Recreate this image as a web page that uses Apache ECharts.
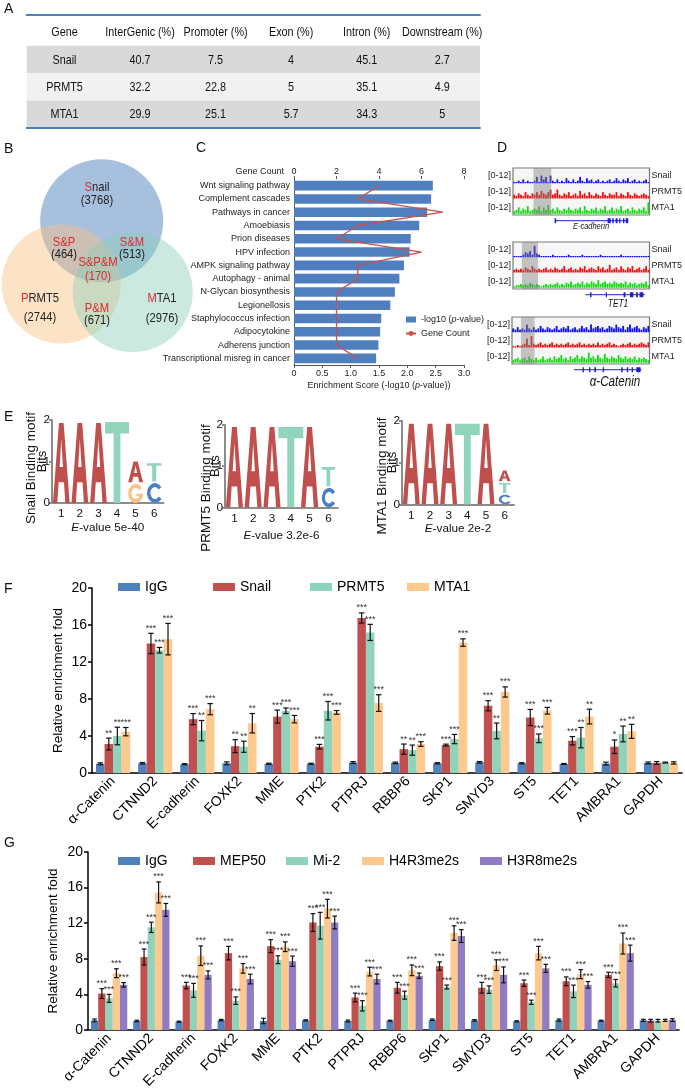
<!DOCTYPE html>
<html><head><meta charset="utf-8">
<script src="https://cdn.jsdelivr.net/npm/echarts@6/dist/echarts.min.js"></script>
<style>html,body{margin:0;padding:0;background:#fff;}#chart{width:685px;height:1091px;}</style>
</head><body><div id="chart"></div>
<script>
// ====================== DATA ======================
// Panel A – peak distribution table
const tableHeader = ['Gene','InterGenic (%)','Promoter (%)','Exon (%)','Intron (%)','Downstream (%)'];
const tableGenes = ['Snail','PRMT5','MTA1'];
const tableInterGenic = [40.7,32.2,29.9];
const tablePromoter = [7.5,22.8,25.1];
const tableExon = [4,5,5.7];
const tableIntron = [45.1,35.1,34.3];
const tableDownstream = [2.7,4.9,5];

// Panel B – Venn
const vennSets = ['Snail','PRMT5','MTA1'];
const vennSetCounts = [3768,2744,2976];
const vennOverlaps = ['S&P','S&M','P&M','S&P&M'];
const vennOverlapCounts = [464,513,671,170];

// Panel C – KEGG enrichment
const keggTerms = ['Wnt signaling pathway','Complement cascades','Pathways in cancer','Amoebiasis','Prion diseases','HPV infection','AMPK signaling pathway','Autophagy - animal','N-Glycan biosynthesis','Legionellosis','Staphylococcus infection','Adipocytokine','Adherens junction','Transcriptional misreg in cancer'];
const keggEnrichment = [2.45,2.42,2.35,2.21,2.06,2.04,1.94,1.86,1.78,1.70,1.54,1.52,1.49,1.45];
const keggGeneCount = [4,3,7,3,2,6,3,3,2,2,2,2,2,3];

// Panel D – ChIP-seq tracks (signal 0-12)
const ecadSnail = [1,1,2,1,3,1,2,1,1,2,5,1,6,3,5,1,6,2,1,3,1,2,1,4,2,1,3,1,2,5,2,1,4,2,3,1,2,3,1,2,1,2,3,1,2,4,2,1,3,2,4,1,2,3,1,2,1,2,3,1];
const ecadPRMT5 = [3,2,4,3,2,5,3,2,4,3,5,3,6,4,3,5,7,3,4,7,3,2,4,3,5,2,3,4,2,6,3,4,2,5,3,2,4,3,2,5,3,2,4,3,3,5,2,4,3,2,5,3,2,4,3,2,3,4,3,2];
const ecadMTA1 = [2,3,5,2,4,3,6,2,3,4,3,6,2,5,3,7,3,4,2,5,3,2,4,3,5,3,2,4,3,5,2,6,3,2,4,3,5,2,4,3,6,2,3,5,2,4,3,6,2,3,4,2,5,3,2,4,3,5,2,9];
const tet1Snail = [1,1,1,1,2,4,3,5,2,9,3,2,1,1,1,1,1,2,1,1,1,1,1,1,2,1,1,1,1,1,2,1,1,1,1,1,1,1,2,1,1,1,1,1,1,1,1,2,1,1,1,1,1,1,1,1,1,1,1,1];
const tet1PRMT5 = [2,3,2,3,2,4,3,2,5,3,2,3,2,3,4,2,3,2,4,3,2,3,5,2,3,4,2,3,2,4,3,5,2,3,4,3,2,5,3,4,2,3,6,2,3,4,2,5,3,2,4,3,5,2,3,4,2,3,5,2];
const tet1MTA1 = [1,2,2,3,2,3,2,4,3,2,3,2,1,2,3,2,3,2,3,4,2,3,2,4,3,5,2,3,4,3,5,2,4,3,5,4,3,6,3,4,5,3,4,3,5,4,3,4,3,5,2,4,3,4,2,3,4,3,5,2];
const ctnnSnail = [3,2,4,2,3,2,6,3,2,4,2,3,5,3,2,4,3,2,3,5,2,3,4,3,5,2,3,4,2,3,5,3,4,2,6,3,4,5,3,4,2,3,5,4,3,6,4,3,5,2,4,6,3,4,5,3,2,4,3,5];
const ctnnPRMT5 = [1,1,2,1,2,3,7,2,9,3,2,3,4,2,3,2,3,4,2,3,2,3,2,3,4,2,3,2,3,4,2,3,2,3,2,3,2,4,2,3,2,3,4,2,3,2,1,2,3,2,3,4,2,3,2,3,4,3,2,4];
const ctnnMTA1 = [2,3,4,2,3,4,2,5,3,2,4,2,3,5,2,3,4,2,5,3,4,6,3,4,2,5,3,4,6,3,5,4,3,8,4,5,3,6,4,3,7,4,3,5,4,3,6,4,3,5,3,4,3,5,2,4,3,4,3,2];
// highlighted regions and gene models (in % of track window)
const ecadShade = [15,28];
const tet1Shade = [6.5,18.3];
const ctnnShade = [6.5,16.4];
const ecadGene = [30.7,84.4];
const tet1Gene = [53,96.5];
const ctnnGene = [45.1,94.2];
const ecadExons = [[30.5,31.6],[69.3,71.6],[72.7,73.8],[75.2,76.6],[77.8,78.7],[80.6,81.6],[82.6,84.4]];
const tet1Exons = [[56.5,57.5],[68,68.8],[81,82.4],[85.7,88.2],[90.2,91.5],[92.7,95.5]];
const ctnnExons = [[51.3,52.3],[56,57],[59.9,61.1],[66,67],[79.4,80.5],[83.5,84.5],[87,88],[90.4,93.5]];
const dGeneNames = ['E-cadherin','TET1','α-Catenin'];
const dTrackNames = ['Snail','PRMT5','MTA1'];

// Panel E – motif logos: [position index, letter, bits] bottom-to-top
const logoPositions = ['1','2','3','4','5','6'];
const snailMotif = [[0,'A',1.93],[1,'A',1.93],[2,'A',1.93],[3,'T',1.95],[4,'G',0.46],[4,'A',0.50],[5,'C',0.48],[5,'T',0.44]];
const prmt5Motif = [[0,'A',1.95],[1,'A',1.95],[2,'A',1.95],[3,'T',1.95],[4,'A',1.95],[5,'C',0.47],[5,'T',0.47]];
const mta1Motif = [[0,'A',1.93],[1,'A',1.93],[2,'A',1.93],[3,'T',1.93],[4,'A',1.93],[5,'C',0.23],[5,'T',0.24],[5,'A',0.26]];
const logoNames = ['Snail','PRMT5','MTA1'];
const logoEValues = ['5e-40','3.2e-6','2e-2'];

// Panel F – ChIP-qPCR
const chipGenes = ['α-Catenin','CTNND2','E-cadherin','FOXK2','MME','PTK2','PTPRJ','RBBP6','SKP1','SMYD3','ST5','TET1','AMBRA1','GAPDH'];
const fIgG      = [1.0,1.05,0.95,1.05,1.0,1.0,1.13,1.1,1.05,1.16,1.05,0.98,1.02,1.09];
const fIgGErr   = [0.1,0.08,0.06,0.15,0.06,0.06,0.1,0.08,0.06,0.08,0.06,0.05,0.15,0.1];
const fSnail    = [3.13,14.0,5.82,2.9,6.1,2.84,16.76,2.58,3.02,7.27,6.0,3.49,2.84,1.09];
const fSnailErr = [0.64,1.1,0.6,0.7,0.7,0.25,0.55,0.55,0.1,0.55,0.87,0.45,0.73,0.15];
const fPRMT5    = [4.0,13.27,4.58,2.84,6.73,6.73,15.2,2.47,3.67,4.55,3.75,3.82,4.22,1.13];
const fPRMT5Err = [0.95,0.3,1.1,0.6,0.3,1.0,0.87,0.55,0.5,0.85,0.47,1.1,0.85,0.05];
const fMTA1     = [4.47,14.47,6.9,5.38,5.82,6.55,7.56,3.13,14.1,8.76,6.73,6.1,4.5,1.09];
const fMTA1Err  = [0.45,1.7,0.6,1.05,0.4,0.2,0.9,0.25,0.4,0.55,0.36,0.8,0.76,0.12];
const fSnailSig = ['**','***','***','**','***','***','***','**','***','***','***','***','*',''];
const fPRMT5Sig = ['**','***','**','**','***','***','***','**','***','**','***','**','**',''];
const fMTA1Sig  = ['***','***','***','**','***','***','***','***','***','***','***','**','**',''];

// Panel G – ChIP-qPCR
const gIgG      = [1.09,1.02,0.94,1.12,1.02,1.09,1.02,1.05,1.16,1.09,0.98,1.12,1.05,1.09];
const gIgGErr   = [0.15,0.08,0.06,0.08,0.3,0.06,0.1,0.06,0.08,0.08,0.06,0.12,0.06,0.12];
const gMEP50    = [4.1,8.2,5.0,8.64,9.43,12.08,3.66,4.75,7.18,4.75,5.26,5.48,6.2,1.05];
const gMEP50Err = [0.55,0.9,0.36,0.76,0.73,1.0,0.49,0.6,0.47,0.6,0.36,0.49,0.3,0.15];
const gMi2      = [3.56,11.54,4.46,3.3,7.9,11.72,2.72,3.92,4.83,4.54,3.12,4.35,5.26,1.05];
const gMi2Err   = [0.45,0.58,0.78,0.42,0.44,1.5,0.58,0.45,0.22,0.42,0.24,0.7,0.42,0.15];
const gH4R3     = [6.39,15.46,8.35,6.93,9.36,13.64,6.57,6.71,10.89,7.29,8.64,6.28,9.72,1.09];
const gH4R3Err  = [0.5,1.18,1.1,0.54,0.54,1.05,0.49,0.6,0.82,0.6,0.76,0.5,1.18,0.12];
const gH3R8     = [5.08,13.5,6.2,5.73,7.73,12.08,5.73,6.1,10.56,6.2,6.93,5.08,8.64,1.12];
const gH3R8Err  = [0.25,0.72,0.45,0.54,0.58,0.72,0.54,0.3,0.72,0.89,0.45,0.36,0.9,0.15];
const gSig      = ['***','***','***','***','***','***','***','***','***','***','***','***','***',''];

// ====================== STYLE / LAYOUT ======================
const FONT = "'Liberation Sans', Arial, Helvetica, sans-serif";
function hasFont(name){
  const c=document.createElement('canvas').getContext('2d'); const s='InterGenic (%) Wnt signaling 0123';
  c.font='30px monospace'; const w1=c.measureText(s).width;
  c.font='30px "'+name+'", monospace'; const w2=c.measureText(s).width;
  return Math.abs(w1-w2)>0.5;
}
const NARROW_OK = hasFont('Liberation Sans Narrow');
const NF = NARROW_OK ? "'Liberation Sans Narrow', 'Liberation Sans', Arial, sans-serif" : FONT;
const ns = s => NARROW_OK ? s : Math.round(s*0.9*10)/10;   // condensed text size for axis text
const SQ = NARROW_OK ? 1 : 0.83;                               // horizontal squeeze for free text
const RED = '#e0282e';
const C_BLUE = '#4f81bd', C_RED = '#c0504d', C_TEAL = '#8ed3ba', C_ORANGE = '#fdc98e', C_PURPLE = '#8f7cc2';

const grids=[], xAxes=[], yAxes=[], series=[], legends=[], graphics=[];
const addGrid=g=>(grids.push(g),grids.length-1);
const addX=a=>(xAxes.push(a),xAxes.length-1);
const addY=a=>(yAxes.push(a),yAxes.length-1);
const textEl=(text,x,y,font,align,vAlign,rot,sx)=>({type:'text',x,y,rotation:rot||0,scaleX:sx||1,silent:true,
  style:{text,font,fill:'#111',align:align||'left',verticalAlign:vAlign||'top',textAlign:align||'left',textVerticalAlign:vAlign||'top'}});

// ---------- Panel A ----------
(function(){
  const g = addGrid({left:26.7, top:18.5, width:453.3, height:109.2});
  const cols = tableHeader.map((_,i)=>String(i));
  const xa = addX({type:'category', gridIndex:g, data:cols, position:'bottom', axisLine:{show:true,onZero:false,lineStyle:{color:'#4a7fc0',width:2}}, axisTick:{show:false}, axisLabel:{show:false}, z:10});
  addX({type:'category', gridIndex:g, data:cols, position:'top', offset:3.5, axisLine:{show:true,onZero:false,lineStyle:{color:'#4a7fc0',width:2}}, axisTick:{show:false}, axisLabel:{show:false}, z:10});
  const ya = addY({type:'category', gridIndex:g, inverse:true, position:'left', data:['Gene'].concat(tableGenes), axisLine:{show:false}, axisTick:{show:false}, axisLabel:{show:false},
    splitArea:{show:true, areaStyle:{color:['#ffffff','#d9d9d9','#f1f1f1','#d9d9d9']}}, splitLine:{show:false}});
  const cells=[];
  tableHeader.forEach((h,c)=>cells.push([c,0,h]));
  tableGenes.forEach((gn,r)=>{
    [gn,tableInterGenic[r],tablePromoter[r],tableExon[r],tableIntron[r],tableDownstream[r]].forEach((v,c)=>cells.push([c,r+1,String(v)]));
  });
  const f='13px '+NF;
  series.push({type:'custom', name:'table', xAxisIndex:xa, yAxisIndex:ya, silent:true, data: cells.map(c=>[c[0],c[1]]),
    renderItem(p,api){
      const pt=api.coord([api.value(0),api.value(1)]);
      return {type:'text', x:pt[0], y:pt[1]+0.5, scaleX:SQ, style:{text:cells[p.dataIndex][2], font:f, fill:'#111', align:'center', verticalAlign:'middle', textAlign:'center', textVerticalAlign:'middle'}};
    }});
})();

// ---------- Panel B ----------
(function(){
  const g = addGrid({left:0, top:150, width:200, height:210});
  const xb = addX({type:'value', gridIndex:g, min:0, max:200, show:false, position:'bottom'});
  const yb = addY({type:'value', gridIndex:g, min:0, max:210, inverse:true, show:false, position:'left'});
  const circleLayout = [[101.7,70.8,61.5],[61.2,134,59.5],[132.7,142,60]];
  const circleColors = ['rgba(79,129,189,0.5)','rgba(251,193,128,0.45)','rgba(140,206,185,0.45)'];
  series.push({type:'custom', name:'venn', xAxisIndex:xb, yAxisIndex:yb, silent:true,
    data: vennSets.map((s,i)=>circleLayout[i]),
    renderItem(p,api){
      const c=api.coord([api.value(0),api.value(1)]);
      const r=api.size([api.value(2),0])[0];
      return {type:'circle', shape:{cx:c[0],cy:c[1],r}, style:{fill:circleColors[p.dataIndex]}};
    }});
  const setLabelPos = [[97,37,50],[40,148,167],[162,148,168]];
  const overlapLabelPos = [[64,92,104],[132,92,104],[97,158,170],[98,112,126]];
  const items=[];
  vennSets.forEach((s,i)=>items.push({pos:setLabelPos[i], name:'{r|'+s[0]+'}{k|'+s.slice(1)+'}', count:'('+vennSetCounts[i]+')', cc:'#222'}));
  vennOverlaps.forEach((s,i)=>items.push({pos:overlapLabelPos[i], name:'{r|'+s+'}', count:'('+vennOverlapCounts[i]+')', cc: s==='S&P&M'?RED:'#222'}));
  const f='13.5px '+NF;
  series.push({type:'custom', name:'vennLabels', xAxisIndex:xb, yAxisIndex:yb, silent:true, z:5,
    data: items.map(d=>d.pos),
    renderItem(p,api){
      const d=items[p.dataIndex];
      const a=api.coord([api.value(0),api.value(1)]), b=api.coord([api.value(0),api.value(2)]);
      return {type:'group', children:[
        {type:'text', x:a[0], y:a[1], scaleX:SQ, style:{text:d.name, font:f, fill:'#222', align:'center', verticalAlign:'middle', textAlign:'center', textVerticalAlign:'middle',
          rich:{r:{fill:RED, font:f}, k:{fill:'#222', font:f}}}},
        {type:'text', x:b[0], y:b[1], scaleX:SQ, style:{text:d.count, font:f, fill:d.cc, align:'center', verticalAlign:'middle', textAlign:'center', textVerticalAlign:'middle'}}
      ]};
    }});
})();

// ---------- Panel C ----------
(function(){
  const fs=ns(10);
  const g = addGrid({left:294, top:179, width:170, height:186});
  const xc = addX({type:'value', gridIndex:g, position:'bottom', min:0, max:3, interval:0.5,
    axisLine:{show:true,onZero:false,lineStyle:{color:'#555'}}, axisTick:{show:true,length:3,lineStyle:{color:'#555'}},
    axisLabel:{fontSize:fs,fontFamily:NF,color:'#222',margin:4,formatter:v=>v===0?'0':v.toFixed(1)}, splitLine:{show:false},
    name:'{a|Enrichment Score (-log10 (}{i|p}{a|-value))}', nameLocation:'middle', nameGap:16, nameMoveOverlap:false,
    nameTextStyle:{rich:{a:{fontSize:fs,color:'#222',fontFamily:NF}, i:{fontSize:fs,color:'#222',fontStyle:'italic',fontFamily:NF}}}});
  const xc2 = addX({type:'value', gridIndex:g, position:'top', min:0, max:8, interval:2,
    axisLine:{show:false}, axisTick:{show:true,length:3,lineStyle:{color:'#555'}},
    axisLabel:{fontSize:fs,fontFamily:NF,color:'#222',margin:3}, splitLine:{show:false},
    name:'Gene Count', nameLocation:'start', nameGap:10, nameMoveOverlap:false,
    nameTextStyle:{fontSize:fs,fontFamily:NF,color:'#222',verticalAlign:'bottom',padding:[0,0,3,0]}});
  const yc = addY({type:'category', gridIndex:g, inverse:true, position:'left', data:keggTerms,
    axisLine:{show:true,onZero:false,lineStyle:{color:'#555'}}, axisTick:{show:false},
    axisLabel:{fontSize:fs,fontFamily:NF,color:'#222',margin:4,interval:0}});
  series.push({type:'bar', name:'-log10 (p-value)', xAxisIndex:xc, yAxisIndex:yc, data:keggEnrichment, barCategoryGap:'28%', itemStyle:{color:'#4f7fbe'}, silent:true});
  series.push({type:'line', name:'Gene Count', xAxisIndex:xc2, yAxisIndex:yc, data:keggGeneCount.map((v,i)=>[v,keggTerms[i]]), symbol:'none', showSymbol:false,
    lineStyle:{color:'#c8504d',width:1.3}, itemStyle:{color:'#c8504d'}, silent:true, z:4});
  legends.push({orient:'vertical', left:405, top:315, padding:0, itemGap:5, itemWidth:10, itemHeight:6, selectedMode:false,
    data:[{name:'-log10 (p-value)',icon:'rect'},{name:'Gene Count'}],
    formatter:n=>n==='Gene Count'?'{a|Gene Count}':'{a|-log10 (}{i|p}{a|-value)}',
    textStyle:{fontSize:fs,color:'#222',rich:{a:{fontSize:fs,color:'#222',fontFamily:NF},i:{fontSize:fs,color:'#222',fontStyle:'italic',fontFamily:NF}}}});
})();

// ---------- Panel D ----------
(function(){
  const blocks = [
    {tracks:[ecadSnail,ecadPRMT5,ecadMTA1], shade:ecadShade, gene:ecadGene, exons:ecadExons},
    {tracks:[tet1Snail,tet1PRMT5,tet1MTA1], shade:tet1Shade, gene:tet1Gene, exons:tet1Exons},
    {tracks:[ctnnSnail,ctnnPRMT5,ctnnMTA1], shade:ctnnShade, gene:ctnnGene, exons:ctnnExons}
  ];
  const boxes = [{left:513,top:168,width:141,height:47},{left:513,top:242,width:142,height:47},{left:512,top:317,width:142,height:47}];
  const base = [25,13,1], YMAX=37, GENE_Y=-4.5;
  const colors = ['#1010ee','#ee1010','#10dd10'];
  const labelPos = [[591,226,'italic 9px '+NF],[618,304,'italic 10px '+NF],[615,382,'italic 14px '+NF]];
  blocks.forEach((b,bi)=>{
    const bx=boxes[bi];
    const g = addGrid(Object.assign({show:true, backgroundColor:'#f6f6f6', borderColor:'#7a7a7a', borderWidth:1.2}, bx));
    const n = Math.max(...b.tracks.map(t=>t.length));
    const xcat = addX({type:'category', gridIndex:g, position:'bottom', data:Array.from({length:n},(_,i)=>String(i)), show:false});
    const xval = addX({type:'value', gridIndex:g, position:'bottom', min:0, max:100, show:false});
    const yv = addY({type:'value', gridIndex:g, position:'left', min:0, max:YMAX, show:false});
    addY({type:'category', gridIndex:g, position:'left', data:['a','b','c'], axisLine:{show:false}, axisTick:{show:false},
      axisLabel:{formatter:()=>'[0-12]', fontSize:ns(10), fontFamily:NF, color:'#222', margin:2}});
    addY({type:'category', gridIndex:g, position:'right', data:dTrackNames.slice().reverse(), axisLine:{show:false}, axisTick:{show:false},
      axisLabel:{fontSize:ns(10), fontFamily:NF, color:'#222', margin:2}});
    b.tracks.forEach((t,k)=>{
      series.push({type:'custom', name:'track', xAxisIndex:xcat, yAxisIndex:yv, silent:true, clip:true,
        data:t.map((v,i)=>[i,v]),
        renderItem(p,api){
          const i=api.value(0), v=api.value(1);
          const b0=api.coord([i,base[k]]), t0=api.coord([i,base[k]+v]);
          const w=Math.max(1,api.size([1,0])[0]*0.8);
          return {type:'rect', shape:{x:b0[0]-w/2, y:t0[1], width:w, height:b0[1]-t0[1]}, style:{fill:colors[k]}};
        }});
    });
    series.push({type:'custom', name:'shade', xAxisIndex:xval, yAxisIndex:yv, silent:true, z:4,
      data:[b.shade],
      renderItem(p,api){
        const a=api.coord([api.value(0),YMAX]), c=api.coord([api.value(1),0]);
        return {type:'rect', shape:{x:a[0],y:a[1],width:c[0]-a[0],height:c[1]-a[1]}, style:{fill:'rgba(130,130,130,0.45)'}};
      }});
    const geneItems = [[b.gene[0],b.gene[1],0]].concat(b.exons.map(e=>[e[0],e[1],1]));
    series.push({type:'custom', name:'gene', xAxisIndex:xval, yAxisIndex:yv, silent:true, clip:false,
      data:geneItems,
      renderItem(p,api){
        const a=api.coord([api.value(0),GENE_Y]), c=api.coord([api.value(1),GENE_Y]);
        if(api.value(2)===0) return {type:'line', shape:{x1:a[0],y1:a[1],x2:c[0],y2:c[1]}, style:{stroke:'#2020c8',lineWidth:1}};
        return {type:'rect', shape:{x:a[0],y:a[1]-2.5,width:Math.max(1.2,c[0]-a[0]),height:5}, style:{fill:'#2020c8'}};
      }});
    graphics.push(textEl(dGeneNames[bi], labelPos[bi][0], labelPos[bi][1], labelPos[bi][2], 'center', 'middle', 0, SQ));
  });
})();

// ---------- Panel E ----------
const LETTERS = ['A','C','G','T'];
const GLYPHS = [
  'M0,100 L36,0 L64,0 L100,100 L74,100 L66,74 L34,74 L26,100 Z M40,55 L60,55 L50,20 Z',
  'M91,21.3 A50,50 0 1 0 91,78.7 L72.9,67.2 A28,30 0 1 1 72.9,32.8 Z',
  'M91,21.3 A50,50 0 1 0 100,52 L55,52 L55,64 L74.8,64 A28,30 0 1 1 72.9,32.8 Z',
  'M0,0 L100,0 L100,14 L64,14 L64,100 L36,100 L36,14 L0,14 Z'
];
const LETTER_COLORS = ['#c0504d','#4a80c6','#fdc07f','#8fd4bb'];
(function(){
  const motifs=[snailMotif,prmt5Motif,mta1Motif];
  const boxes=[{left:52,top:420,width:111.5,height:83},{left:225,top:425,width:112.8,height:82.3},{left:402,top:420.7,width:112,height:83.6}];
  const widthFactors=[[0.9,0.9,0.9,1.29,0.8,0.78],[0.91,0.91,0.91,1.33,0.92,0.71],[0.91,0.91,0.91,1.33,0.91,0.63]];
  const bitsGap=[3.5,3.5,3], evalGap=[19,22.5,18.5];
  const titlePos=[[31.7,468],[206,488],[382.7,476]];
  const fs=ns(13);
  motifs.forEach((m,li)=>{
    const g=addGrid(boxes[li]);
    const xe=addX({type:'category', gridIndex:g, position:'bottom', data:logoPositions,
      axisLine:{show:true,onZero:false,lineStyle:{color:'#8c8c8c',width:2}}, axisTick:{show:false},
      axisLabel:{fontSize:fs,fontFamily:NF,color:'#111',margin:5},
      name:'{i|E}{n|-value '+logoEValues[li]+'}', nameLocation:'middle', nameGap:evalGap[li], nameMoveOverlap:false,
      nameTextStyle:{rich:{i:{fontSize:fs,fontStyle:'italic',color:'#111',fontFamily:NF}, n:{fontSize:fs,color:'#111',fontFamily:NF}}}});
    const ye=addY({type:'value', gridIndex:g, position:'left', min:0, max:2, interval:1,
      axisLine:{show:true,lineStyle:{color:'#8c8c8c',width:2}}, axisTick:{show:true,length:3,lineStyle:{color:'#8c8c8c',width:2}},
      axisLabel:{fontSize:fs,fontFamily:NF,color:'#111',margin:2}, splitLine:{show:false},
      name:'Bits', nameLocation:'middle', nameGap:bitsGap[li], nameMoveOverlap:false, nameTextStyle:{fontSize:13,color:'#111',fontFamily:FONT}});
    const cum=[0,0,0,0,0,0], stacks=[];
    m.forEach(([pos,letter,h])=>{ const b=cum[pos]; stacks.push([pos,b,b+h,LETTERS.indexOf(letter)]); cum[pos]=b+h+0.04; });
    const wf=widthFactors[li];
    series.push({type:'custom', name:'logo', xAxisIndex:xe, yAxisIndex:ye, silent:true, clip:false, data:stacks,
      renderItem(p,api){
        const pos=api.value(0), b=api.value(1), t=api.value(2), L=api.value(3);
        const c0=api.coord([pos,b]), c1=api.coord([pos,t]);
        const bw=api.size([1,0])[0]*wf[pos];
        return {type:'path', shape:{pathData:GLYPHS[L], x:c0[0]-bw/2, y:c1[1], width:bw, height:c0[1]-c1[1], layout:'cover'}, style:{fill:LETTER_COLORS[L]}};
      }});
    graphics.push(textEl(logoNames[li]+' Binding motif', titlePos[li][0], titlePos[li][1], '13.5px '+FONT, 'center', 'middle', Math.PI/2));
  });
})();

// ---------- Panels F & G ----------
function barPanel(box, defs, gap, legendLefts, legendTop, nameGap){
  const g=addGrid(box);
  const xi=addX({type:'category', gridIndex:g, position:'bottom', data:chipGenes,
    axisLine:{show:true,lineStyle:{color:'#000',width:1.5}}, axisTick:{show:false},
    axisLabel:{rotate:45, fontSize:14, color:'#000', margin:6, interval:0}});
  const yi=addY({type:'value', gridIndex:g, position:'left', min:0, max:20, interval:4,
    axisLine:{show:true,lineStyle:{color:'#000',width:1.5}}, axisTick:{show:true,length:4,lineStyle:{color:'#000',width:1.5}},
    axisLabel:{fontSize:14,color:'#000',margin:5}, splitLine:{show:false},
    name:'Relative enrichment fold', nameLocation:'middle', nameGap:nameGap, nameMoveOverlap:false, nameTextStyle:{fontSize:13.5,color:'#000'}});
  const n=defs.length;
  defs.forEach(d=>series.push({type:'bar', name:d.name, xAxisIndex:xi, yAxisIndex:yi, data:d.values, barGap:'0%', barCategoryGap:(gap*100)+'%', itemStyle:{color:d.color}, silent:true}));
  defs.forEach((d,i)=>series.push({type:'custom', name:'err', xAxisIndex:xi, yAxisIndex:yi, z:5, silent:true,
    data:d.values.map((v,j)=>[j,v,d.errors[j]]),
    renderItem(p,api){
      const j=api.value(0), v=api.value(1), e=api.value(2);
      const band=api.size([1,0])[0], total=band*(1-gap), bw=total/n;
      const cx=api.coord([j,0])[0]-total/2+bw*(i+0.5);
      const yt=api.coord([j,v+e])[1], yb=api.coord([j,Math.max(0,v-e)])[1];
      const cap=bw*0.32, ls={stroke:'#111',lineWidth:1.2};
      const ch=[{type:'line',shape:{x1:cx,y1:yt,x2:cx,y2:yb},style:ls},
                {type:'line',shape:{x1:cx-cap,y1:yt,x2:cx+cap,y2:yt},style:ls},
                {type:'line',shape:{x1:cx-cap,y1:yb,x2:cx+cap,y2:yb},style:ls}];
      const s=d.sig?d.sig[p.dataIndex]:'';
      if(s) ch.push({type:'text',x:cx,y:yt-0.5,style:{text:s,font:'9px '+FONT,fill:'#333',align:'center',verticalAlign:'bottom',textAlign:'center',textVerticalAlign:'bottom'}});
      return {type:'group',children:ch};
    }}));
  defs.forEach((d,i)=>legends.push({data:[{name:d.name,icon:'rect'}], left:legendLefts[i], top:legendTop, padding:0, itemWidth:22, itemHeight:8, itemGap:5, selectedMode:false,
    textStyle:{fontSize:14,color:'#000',fontFamily:FONT}}));
}
barPanel({left:92, top:588, width:590, height:185}, [
  {name:'IgG', values:fIgG, errors:fIgGErr, sig:null, color:C_BLUE},
  {name:'Snail', values:fSnail, errors:fSnailErr, sig:fSnailSig, color:C_RED},
  {name:'PRMT5', values:fPRMT5, errors:fPRMT5Err, sig:fPRMT5Sig, color:C_TEAL},
  {name:'MTA1', values:fMTA1, errors:fMTA1Err, sig:fMTA1Sig, color:C_ORANGE}
], 0.19, [118,213,310,407], 580, 27);
barPanel({left:88, top:852, width:591, height:184}, [
  {name:'IgG', values:gIgG, errors:gIgGErr, sig:null, color:C_BLUE},
  {name:'MEP50', values:gMEP50, errors:gMEP50Err, sig:gSig, color:C_RED},
  {name:'Mi-2', values:gMi2, errors:gMi2Err, sig:gSig, color:C_TEAL},
  {name:'H4R3me2s', values:gH4R3, errors:gH4R3Err, sig:gSig, color:C_ORANGE},
  {name:'H3R8me2s', values:gH3R8, errors:gH3R8Err, sig:gSig, color:C_PURPLE}
], 0.14, [118,193,286,362,480], 854, 28);

// ---------- panel letters ----------
[['A',4,2],['B',4,142],['C',196,141],['D',497,141],['E',4,410],['F',4,582],['G',4,836]].forEach(l=>graphics.push(textEl(l[0],l[1],l[2],'14px '+FONT)));

const chart = echarts.init(document.getElementById('chart'), null, {renderer:'canvas'});
chart.setOption({
  animation:false,
  backgroundColor:'#ffffff',
  textStyle:{fontFamily:FONT},
  grid:grids, xAxis:xAxes, yAxis:yAxes, series:series, legend:legends,
  graphic:{elements:graphics}
});
</script></body></html>
